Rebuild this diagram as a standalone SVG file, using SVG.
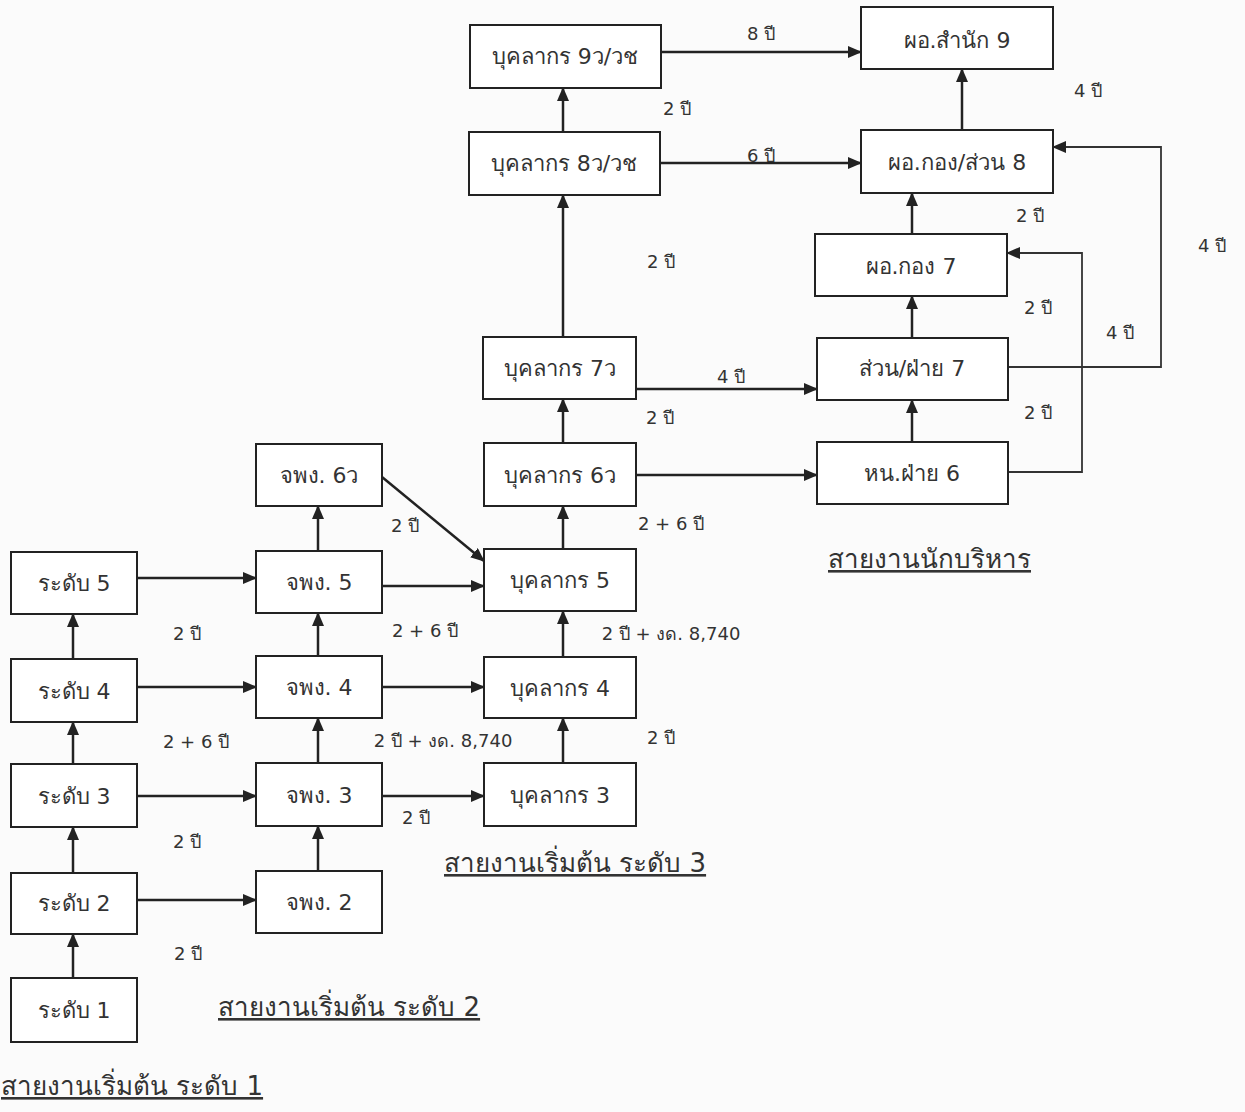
<svg xmlns="http://www.w3.org/2000/svg" width="1245" height="1112" viewBox="0 0 1245 1112">
<style>
.box{fill:#ffffff;stroke:#222;stroke-width:2}
.nt{font-family:"DejaVu Sans","Noto Sans",sans-serif;font-size:22px;fill:#333;text-anchor:middle;dominant-baseline:central}
.lb{font-family:"DejaVu Sans","Noto Sans",sans-serif;font-size:18px;fill:#333;text-anchor:middle;dominant-baseline:central}
.tt{font-family:"DejaVu Sans","Noto Sans",sans-serif;font-size:26px;fill:#333;text-decoration:underline}
.cn{fill:none;stroke:#222;stroke-width:2.5}
.cn2{fill:none;stroke:#333;stroke-width:1.8}
</style>
<defs>
<marker id="ah" markerUnits="userSpaceOnUse" markerWidth="14" markerHeight="12" refX="13" refY="6" orient="auto">
<path d="M0,0 L14,6 L0,12 z" fill="#222"/>
</marker>
</defs>
<rect width="1245" height="1112" fill="#fbfbfb"/>
<g id="connectors">
<path class="cn" marker-end="url(#ah)" d="M73,978 V934"/>
<path class="cn" marker-end="url(#ah)" d="M73,873 V827"/>
<path class="cn" marker-end="url(#ah)" d="M73,764 V722"/>
<path class="cn" marker-end="url(#ah)" d="M73,659 V614"/>
<path class="cn" marker-end="url(#ah)" d="M137,900 H256"/>
<path class="cn" marker-end="url(#ah)" d="M137,796 H256"/>
<path class="cn" marker-end="url(#ah)" d="M137,687 H256"/>
<path class="cn" marker-end="url(#ah)" d="M137,578 H256"/>
<path class="cn" marker-end="url(#ah)" d="M318,871 V826"/>
<path class="cn" marker-end="url(#ah)" d="M318,763 V718"/>
<path class="cn" marker-end="url(#ah)" d="M318,656 V613"/>
<path class="cn" marker-end="url(#ah)" d="M318,551 V506"/>
<path class="cn" marker-end="url(#ah)" d="M382,796 H484"/>
<path class="cn" marker-end="url(#ah)" d="M382,687 H484"/>
<path class="cn" marker-end="url(#ah)" d="M382,586 H484"/>
<path class="cn" marker-end="url(#ah)" d="M382,477 L484,561"/>
<path class="cn" marker-end="url(#ah)" d="M563,763 V718"/>
<path class="cn" marker-end="url(#ah)" d="M563,657 V611"/>
<path class="cn" marker-end="url(#ah)" d="M563,549 V506"/>
<path class="cn" marker-end="url(#ah)" d="M563,443 V399"/>
<path class="cn" marker-end="url(#ah)" d="M563,337 V195"/>
<path class="cn" marker-end="url(#ah)" d="M563,132 V88"/>
<path class="cn" marker-end="url(#ah)" d="M661,52 H861"/>
<path class="cn" marker-end="url(#ah)" d="M660,163 H861"/>
<path class="cn" marker-end="url(#ah)" d="M636,389 H817"/>
<path class="cn" marker-end="url(#ah)" d="M636,475 H817"/>
<path class="cn" marker-end="url(#ah)" d="M912,442 V400"/>
<path class="cn" marker-end="url(#ah)" d="M912,338 V296"/>
<path class="cn" marker-end="url(#ah)" d="M912,234 V193"/>
<path class="cn" marker-end="url(#ah)" d="M962,130 V69"/>
<path class="cn2" marker-end="url(#ah)" d="M1008,472 H1082 V253 H1007"/>
<path class="cn2" marker-end="url(#ah)" d="M1008,367 H1161 V147 H1053"/>
</g>
<g id="n-r1"><rect class="box" x="11" y="978" width="126" height="64"/><text class="nt" x="74" y="1010">ระดับ 1</text></g>
<g id="n-r2"><rect class="box" x="11" y="873" width="126" height="61"/><text class="nt" x="74" y="903">ระดับ 2</text></g>
<g id="n-r3"><rect class="box" x="11" y="764" width="126" height="63"/><text class="nt" x="74" y="796">ระดับ 3</text></g>
<g id="n-r4"><rect class="box" x="11" y="659" width="126" height="63"/><text class="nt" x="74" y="691">ระดับ 4</text></g>
<g id="n-r5"><rect class="box" x="11" y="552" width="126" height="62"/><text class="nt" x="74" y="583">ระดับ 5</text></g>
<g id="n-j2"><rect class="box" x="256" y="871" width="126" height="62"/><text class="nt" x="319" y="902">จพง. 2</text></g>
<g id="n-j3"><rect class="box" x="256" y="763" width="126" height="63"/><text class="nt" x="319" y="795">จพง. 3</text></g>
<g id="n-j4"><rect class="box" x="256" y="656" width="126" height="62"/><text class="nt" x="319" y="687">จพง. 4</text></g>
<g id="n-j5"><rect class="box" x="256" y="551" width="126" height="62"/><text class="nt" x="319" y="582">จพง. 5</text></g>
<g id="n-j6"><rect class="box" x="256" y="444" width="126" height="62"/><text class="nt" x="319" y="475">จพง. 6ว</text></g>
<g id="n-b3"><rect class="box" x="484" y="763" width="152" height="63"/><text class="nt" x="560" y="795">บุคลากร 3</text></g>
<g id="n-b4"><rect class="box" x="484" y="657" width="152" height="61"/><text class="nt" x="560" y="688">บุคลากร 4</text></g>
<g id="n-b5"><rect class="box" x="484" y="549" width="152" height="62"/><text class="nt" x="560" y="580">บุคลากร 5</text></g>
<g id="n-b6"><rect class="box" x="484" y="443" width="152" height="63"/><text class="nt" x="560" y="475">บุคลากร 6ว</text></g>
<g id="n-b7"><rect class="box" x="483" y="337" width="153" height="62"/><text class="nt" x="560" y="368">บุคลากร 7ว</text></g>
<g id="n-b8"><rect class="box" x="469" y="132" width="191" height="63"/><text class="nt" x="564" y="163">บุคลากร 8ว/วช</text></g>
<g id="n-b9"><rect class="box" x="470" y="25" width="191" height="63"/><text class="nt" x="565" y="56">บุคลากร 9ว/วช</text></g>
<g id="n-h6"><rect class="box" x="817" y="442" width="191" height="62"/><text class="nt" x="912" y="473">หน.ฝ่าย 6</text></g>
<g id="n-s7"><rect class="box" x="817" y="338" width="191" height="62"/><text class="nt" x="912" y="368">ส่วน/ฝ่าย 7</text></g>
<g id="n-k7"><rect class="box" x="815" y="234" width="192" height="62"/><text class="nt" x="911" y="266">ผอ.กอง 7</text></g>
<g id="n-k8"><rect class="box" x="861" y="130" width="192" height="63"/><text class="nt" x="957" y="162">ผอ.กอง/ส่วน 8</text></g>
<g id="n-s9"><rect class="box" x="861" y="7" width="192" height="62"/><text class="nt" x="957" y="40">ผอ.สำนัก 9</text></g>
<g id="labels">
<text class="lb" x="188" y="953">2 ปี</text>
<text class="lb" x="187" y="841">2 ปี</text>
<text class="lb" x="196" y="741">2 + 6 ปี</text>
<text class="lb" x="187" y="633">2 ปี</text>
<text class="lb" x="416" y="817">2 ปี</text>
<text class="lb" x="443" y="740">2 ปี + งด. 8,740</text>
<text class="lb" x="425" y="630">2 + 6 ปี</text>
<text class="lb" x="405" y="525">2 ปี</text>
<text class="lb" x="661" y="737">2 ปี</text>
<text class="lb" x="671" y="633">2 ปี + งด. 8,740</text>
<text class="lb" x="671" y="523">2 + 6 ปี</text>
<text class="lb" x="660" y="417">2 ปี</text>
<text class="lb" x="731" y="376">4 ปี</text>
<text class="lb" x="661" y="261">2 ปี</text>
<text class="lb" x="677" y="108">2 ปี</text>
<text class="lb" x="761" y="155">6 ปี</text>
<text class="lb" x="761" y="33">8 ปี</text>
<text class="lb" x="1088" y="90">4 ปี</text>
<text class="lb" x="1030" y="215">2 ปี</text>
<text class="lb" x="1212" y="245">4 ปี</text>
<text class="lb" x="1038" y="307">2 ปี</text>
<text class="lb" x="1120" y="332">4 ปี</text>
<text class="lb" x="1038" y="412">2 ปี</text>
</g>
<g id="titles">
<text class="tt" x="828" y="568">สายงานนักบริหาร</text>
<text class="tt" x="444" y="872">สายงานเริ่มต้น ระดับ 3</text>
<text class="tt" x="218" y="1016">สายงานเริ่มต้น ระดับ 2</text>
<text class="tt" x="1" y="1095">สายงานเริ่มต้น ระดับ 1</text>
</g>
</svg>
